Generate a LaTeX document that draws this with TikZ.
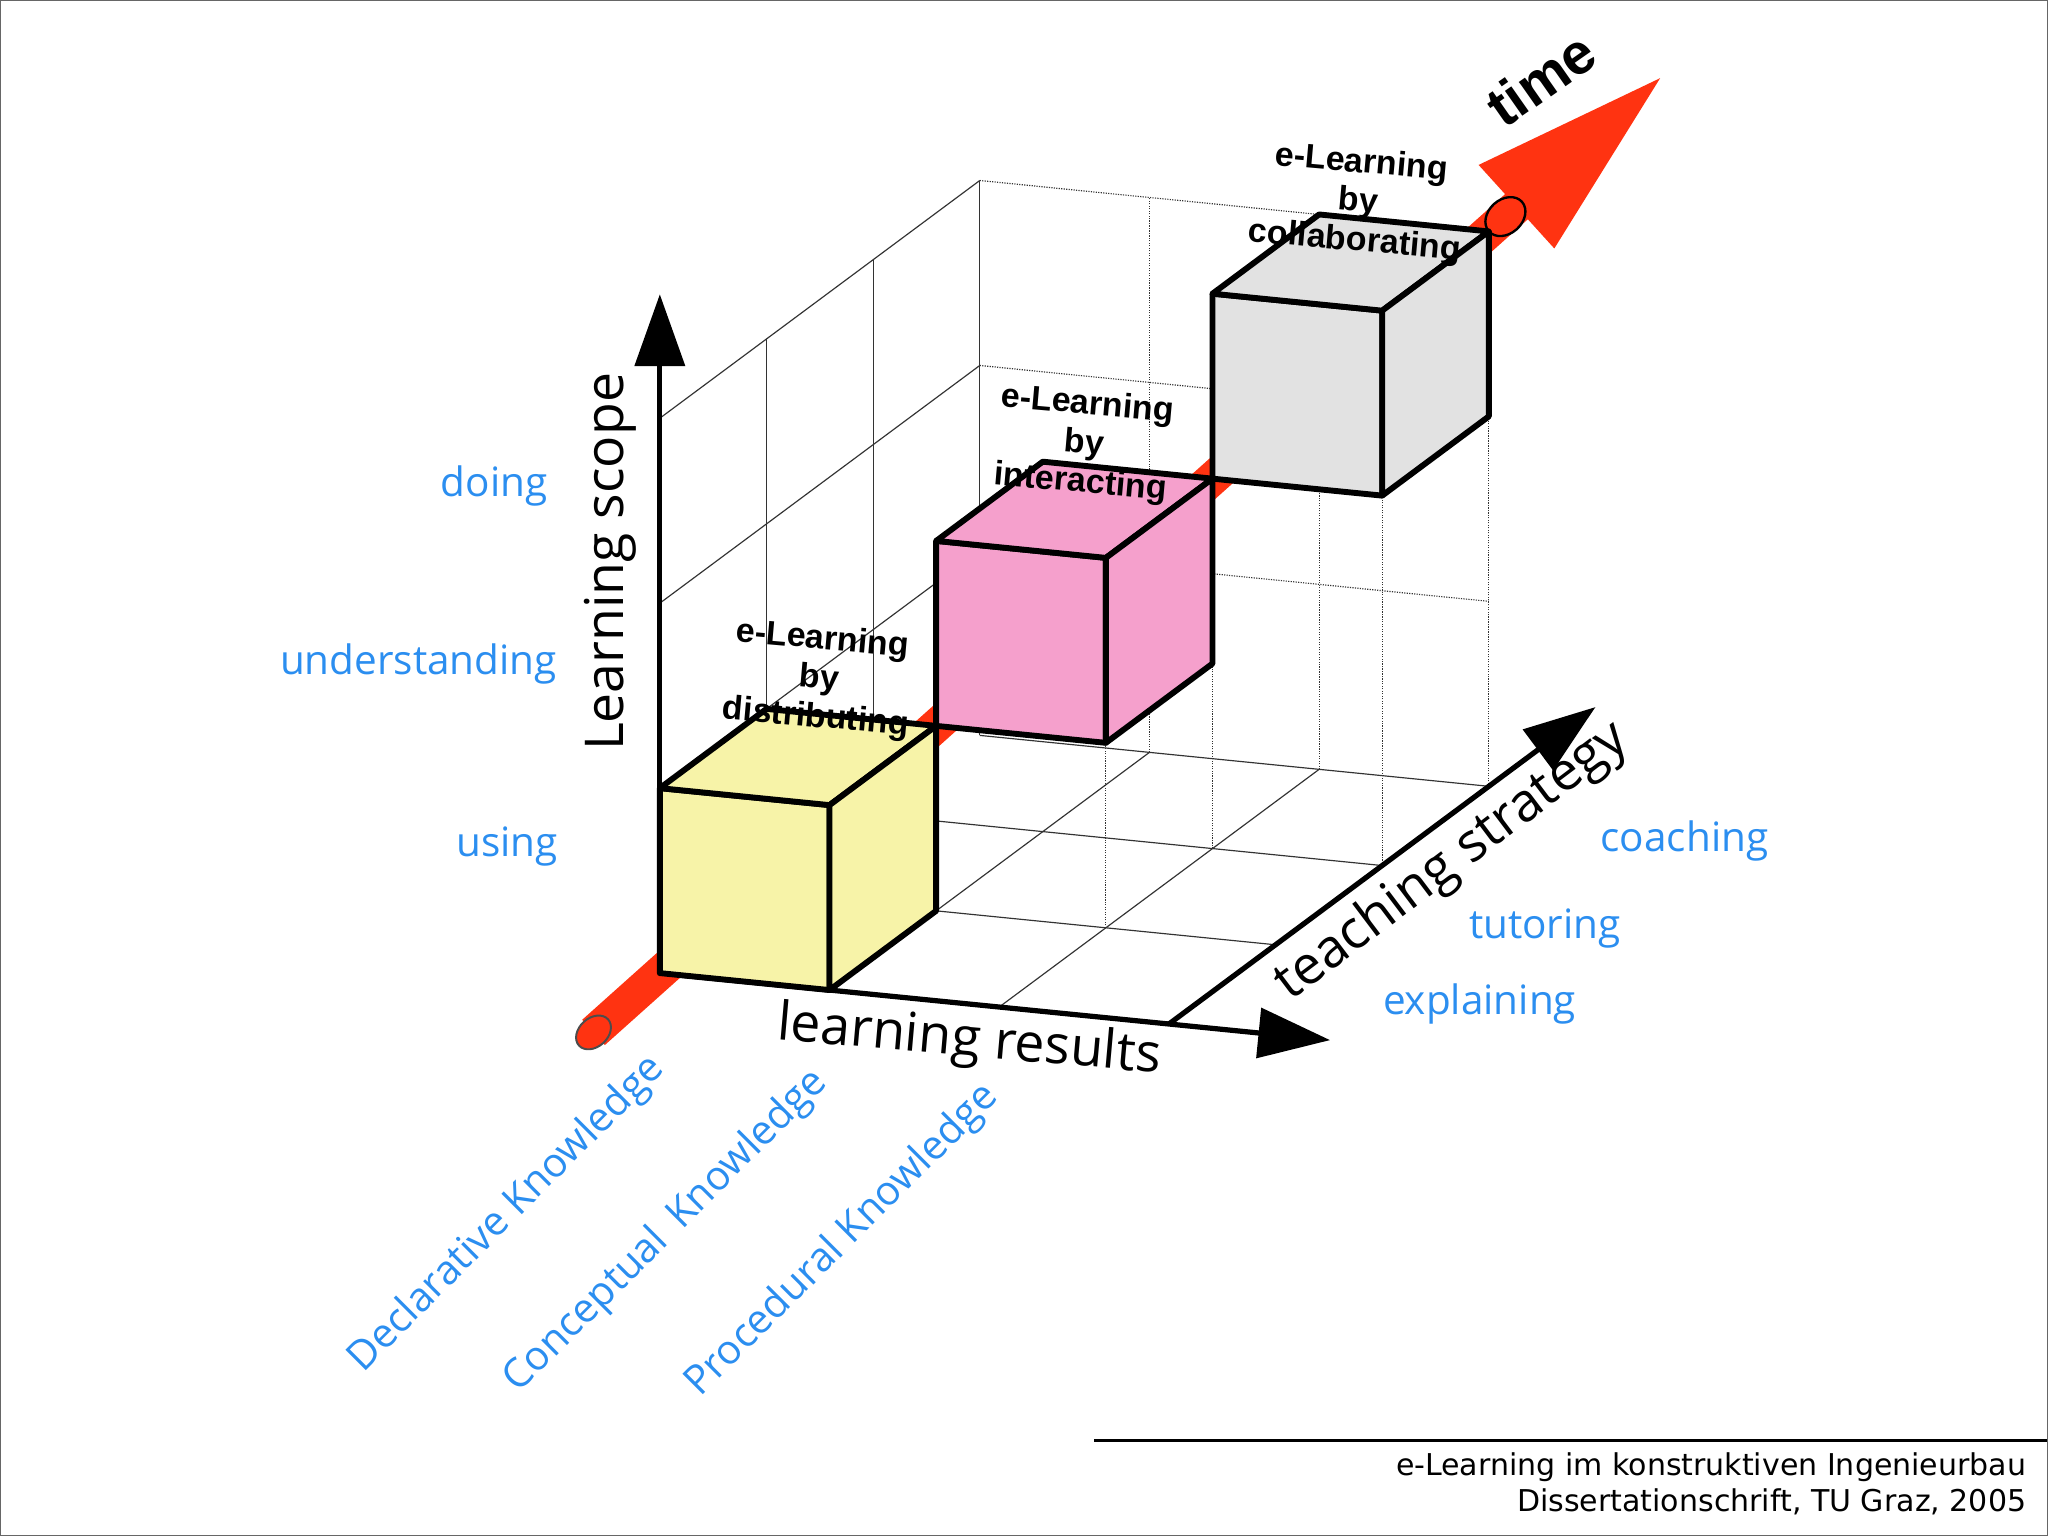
\documentclass[tikz,border=0pt]{standalone}
\usepackage{fontspec}
\setmainfont{Open Sans}
\newfontfamily\boldlab{Liberation Sans}
\newfontfamily\footfont{DejaVu Sans}
\usetikzlibrary{arrows.meta,calc}
\definecolor{myblue}{HTML}{2B8EF0}
\definecolor{myred}{HTML}{FF3311}
\definecolor{cyel}{HTML}{F7F3A8}
\definecolor{cpink}{HTML}{F5A0CC}
\definecolor{cgrey}{HTML}{E2E2E2}
\tikzset{
 thin grid/.style={line width=0.9pt, black!80},
 dot grid/.style={line width=0.9pt, black!80, densely dotted},
 cubeline/.style={line width=4.5pt, line join=round, draw=black},
 axisline/.style={line width=4pt},
 bluelab/.style={text=myblue, font=\fontsize{31}{34}\selectfont},
 cubelab/.style={font=\boldlab\bfseries\fontsize{26}{30}\selectfont, align=center, rotate=-5},
 blackarrow/.style={-{Triangle[length=55pt,width=38pt]}},
}
\newcommand\mycube[4]{%
 \filldraw[cubeline,fill=#4] (#1,#2,#3) -- ++(1,0,0) -- ++(0,1,0) -- ++(-1,0,0) -- cycle;
 \filldraw[cubeline,fill=#4] (#1,#2+1,#3) -- ++(1,0,0) -- ++(0,0,1) -- ++(-1,0,0) -- cycle;
 \filldraw[cubeline,fill=#4] (#1+1,#2,#3) -- ++(0,0,1) -- ++(0,1,0) -- ++(0,0,-1) -- cycle;}
\begin{document}
\begin{tikzpicture}[x=1pt,y=1pt]
\draw[fill=white,draw=black!60,line width=1pt] (0,0) rectangle (1568,-1176);
\useasboundingbox (0,0) rectangle (1568,-1176);
\begin{scope}[shift={(505pt,-745pt)},x={(130pt,-13pt)},y={(0pt,141.7pt)},z={(81.7pt,60.7pt)}]
 \foreach \k in {1,2,3} \draw[thin grid] (0,\k,0) -- (0,\k,3);
 \foreach \j in {1,2,3} \draw[thin grid] (0,0,\j) -- (0,3,\j);
 \foreach \k in {1,2,3} \draw[dot grid] (0,\k,3) -- (3,\k,3);
 \foreach \i in {1,2,3} \draw[dot grid] (\i,0,3) -- (\i,3,3);
 \foreach \j in {1,2,3} \draw[thin grid] (0,0,\j) -- (3,0,\j);
 \foreach \i in {1,2} \draw[thin grid] (\i,0,0) -- (\i,0,3);
 \foreach \p in {(1,0,1),(2,0,1),(2,0,2)} \draw[dot grid] \p -- ++(0,1,0);
 \foreach \p in {(2,0,2),(3,0,2),(3,0,3)} \draw[dot grid] \p -- ++(0,2,0);
 \coordinate (O) at (0,0,0);
 \coordinate (Xe) at (3.95,0,0);
 \coordinate (X3) at (3,0,0);
 \coordinate (Ze) at (3,0,4);
 \coordinate (Ye) at (0,3.67,0);
 \draw[axisline,blackarrow] (O) -- (Xe);
 \draw[axisline,blackarrow] (X3) -- (Ze);
 \draw[axisline,blackarrow] (O) -- (Ye);
 \coordinate (ps) at (-0.24,-0.24,-0.24);
 \coordinate (pe) at (3.12,3.12,3.12);
 \coordinate (tip) at (3.62,3.62,3.62);
 \coordinate (cb) at (3.1,3.1,3.1);
 \coordinate (rg) at (3.06,3.06,3.06);
 \draw[myred,line width=26pt] (ps) -- (pe);
 \fill[myred] ($(cb)+(-29pt,32pt)$) -- (tip) -- ($(cb)+(29pt,-32pt)$) -- cycle;
 \filldraw[fill=myred,draw=black!70,line width=1.5pt] (ps) ellipse[x radius=11pt,y radius=15pt,rotate=-48];
 \draw[black,line width=1.8pt] (rg) ellipse[x radius=13pt,y radius=17pt,rotate=-48];
 \mycube{2}{2}{2}{cgrey}
 \mycube{1}{1}{1}{cpink}
 \mycube{0}{0}{0}{cyel}
\end{scope}
\node[cubelab] (l3) at (1040,-155) {e-Learning\\by\\collaborating};
\node[cubelab] (l2) at (830,-340) {e-Learning\\by\\interacting};
\node[cubelab] (l1) at (627,-520) {e-Learning\\by\\distributing};
\node[rotate=90,font=\fontsize{41}{44}\selectfont] (ls) at (467,-430) {Learning scope};
\node[rotate=-5,font=\fontsize{41}{44}\selectfont] (lr) at (742,-798) {learning results};
\node[rotate=37,font=\fontsize{41}{44}\selectfont] (ts) at (1112,-660) {teaching strategy};
\node[rotate=35,font=\boldlab\bfseries\fontsize{44}{46}\selectfont] (tm) at (1180,-60) {time};
\node[bluelab] (d1) at (378,-372) {doing};
\node[bluelab] (d2) at (320,-508) {understanding};
\node[bluelab] (d3) at (388,-648) {using};
\node[bluelab] (c1) at (1290,-644) {coaching};
\node[bluelab] (c2) at (1183,-711) {tutoring};
\node[bluelab] (c3) at (1133,-769) {explaining};
\node[bluelab,rotate=45] (k1) at (388,-930) {Declarative Knowledge};
\node[bluelab,rotate=45] (k2) at (510,-943) {Conceptual\, Knowledge};
\node[bluelab,rotate=45] (k3) at (645,-950) {Procedural Knowledge};
\draw[line width=2pt] (838,-1103) -- (1568,-1103);
\node[anchor=north east,align=right,font=\footfont\fontsize{23}{28}\selectfont,inner sep=0pt] (ft) at (1552,-1112) {e-Learning im konstruktiven Ingenieurbau\\Dissertationschrift, TU Graz, 2005};
\end{tikzpicture}
\end{document}
